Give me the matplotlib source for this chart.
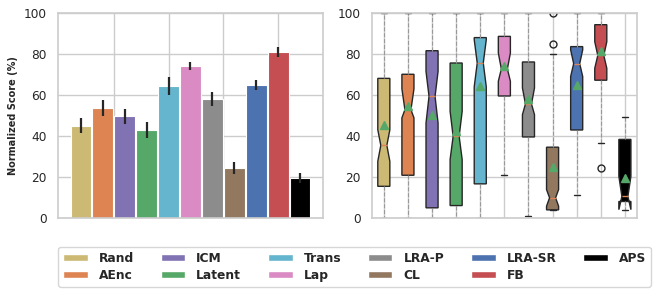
import numpy as np
import matplotlib
matplotlib.use("Agg")
import matplotlib.pyplot as plt
import seaborn as sns
from matplotlib.patches import Patch

sns.set_theme(style="whitegrid", palette="deep")
plt.rcParams['font.family'] = ['DejaVu Sans']

methods = ['Rand', 'AEnc', 'ICM', 'Latent', 'Trans', 'Lap', 'LRA-P', 'CL', 'LRA-SR', 'FB', 'APS']
colors = ['#ccb974', '#dd8452', '#8172b3', '#55a868', '#64b5cd', '#da8bc3',
          '#8c8c8c', '#937860', '#4c72b0', '#c44e52', '#000000']

# left panel: mean normalized score with error
bar_mean = [45.0, 53.5, 49.5, 43.0, 64.5, 74.0, 58.0, 24.5, 65.0, 81.0, 19.5]
bar_err = [3.8, 4.0, 3.5, 4.0, 4.5, 2.0, 3.2, 3.0, 2.5, 2.5, 2.5]

# right panel: box statistics per method
q1 = [15.4, 20.8, 4.9, 6.0, 16.6, 59.5, 39.5, 3.9, 42.9, 67.2, 8.0]
med = [35.4, 52.8, 59.3, 39.8, 75.6, 72.7, 55.6, 9.8, 75.3, 79.3, 10.5]
q3 = [68.1, 70.1, 81.6, 75.6, 88.0, 88.6, 76.1, 34.5, 83.6, 94.3, 38.3]
ci_lo = [27.6, 48.8, 46.3, 28.5, 64.0, 66.7, 50.4, 5.7, 69.0, 73.0, 4.0]
ci_hi = [43.0, 63.0, 71.5, 52.0, 87.0, 80.5, 63.4, 13.8, 82.0, 86.0, 20.3]
box_mean = [45.5, 54.5, 50.0, 42.5, 64.5, 74.3, 58.2, 24.9, 65.0, 81.3, 19.5]
whis_lo = [0.0, 0.0, 0.0, 0.0, 0.0, 20.8, 0.8, 3.9, 11.4, 36.6, 3.6]
whis_hi = [100, 100, 100, 100, 100, 100, 100, 80.2, 100, 100, 49.3]
fliers = [[], [], [], [], [], [], [], [84.9, 100.0], [], [24.4], []]

fig = plt.figure(figsize=(6.58, 2.96), dpi=100)
ax1 = fig.add_axes([0.088, 0.264, 0.403, 0.692])
ax2 = fig.add_axes([0.565, 0.264, 0.403, 0.692])

x = np.arange(len(methods))
ax1.bar(x, bar_mean, width=0.95, color=colors, edgecolor='white', linewidth=0.8,
        yerr=bar_err, error_kw=dict(ecolor='#262626', elinewidth=1.6, capsize=0))
ax1.set_xlim(-1.05, 11.05)
ax1.set_xticks([1.5, 4, 6.5, 9])
ax1.set_xticklabels([])
ax1.set_ylim(0, 100)
ax1.set_yticks(np.arange(0, 101, 20))
ax1.set_ylabel('Normalized Score (%)', fontsize=7, fontweight='bold')

stats = []
for i in range(len(methods)):
    stats.append(dict(q1=q1[i], med=med[i], q3=q3[i], cilo=ci_lo[i], cihi=ci_hi[i],
                      mean=box_mean[i], whislo=whis_lo[i], whishi=whis_hi[i],
                      fliers=fliers[i]))
bp = ax2.bxp(stats, positions=x + 1, shownotches=True, showmeans=True, patch_artist=True,
             boxprops=dict(edgecolor='#262626', linewidth=1.0),
             whiskerprops=dict(color='#999999', linestyle='--', linewidth=0.8),
             capprops=dict(color='#262626', linewidth=1.0),
             medianprops=dict(color='#dd8452', linewidth=1.0),
             meanprops=dict(marker='^', markerfacecolor='#55a868', markeredgecolor='#55a868',
                            markersize=6),
             flierprops=dict(marker='o', markerfacecolor='none', markeredgecolor='#262626',
                             markersize=5))
for patch, c in zip(bp['boxes'], colors):
    patch.set_facecolor(c)
ax2.set_xlim(0.5, 11.5)
ax2.set_xticks(x + 1)
ax2.set_xticklabels([])
ax2.set_ylim(0, 100)
ax2.set_yticks(np.arange(0, 101, 20))

for ax in (ax1, ax2):
    ax.tick_params(axis='y', labelsize=8.7, pad=2)
    for s in ax.spines.values():
        s.set_color('#cccccc')
        s.set_linewidth(1.2)

handles = [Patch(facecolor=c, edgecolor='white', label=m) for m, c in zip(methods, colors)]
leg = fig.legend(handles=handles, loc='lower center', bbox_to_anchor=(0.539, 0.031), ncol=6,
                 prop=dict(size=8.8, weight='bold'), frameon=True, handlelength=2.0,
                 handleheight=0.55, handletextpad=0.9, columnspacing=2.2, borderpad=0.4,
                 labelspacing=0.35, borderaxespad=0)
leg.get_frame().set_edgecolor('#cccccc')

fig.savefig('out.png', dpi=100)
